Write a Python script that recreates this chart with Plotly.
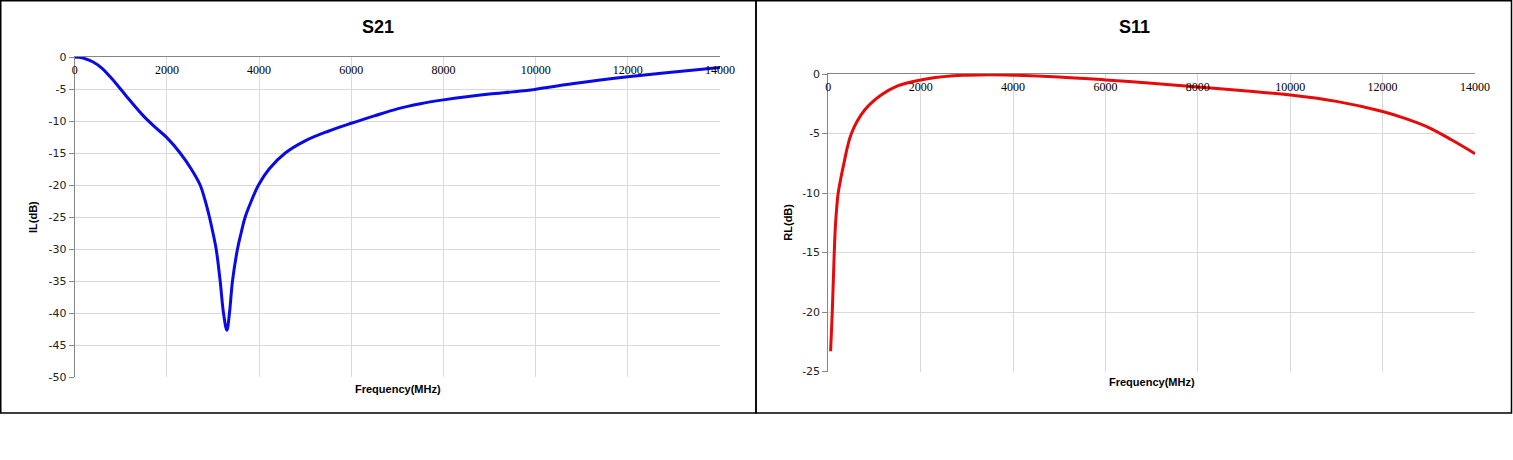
import plotly.graph_objects as go

W, H = 1513, 460

# ---- data ----
s21_freq = [0, 100, 200, 400, 600, 770, 950, 1130, 1490, 1750, 2000, 2287, 2528, 2721, 2833,
            2923, 3000, 3069, 3156, 3228, 3301, 3358, 3423, 3532, 3610, 3699, 3832, 3988,
            4218, 4568, 5000, 5500, 6000, 6500, 7000, 7500, 8000, 8500, 9000, 9500, 9850,
            10000, 10830, 12000, 13000, 14000]
s21_db = [0, -0.05, -0.2, -0.78, -1.8, -3.1, -4.6, -6.2, -9.2, -11.0, -12.6, -15.0, -17.5,
          -20.0, -22.5, -25.0, -27.5, -30.0, -35.0, -40.0, -42.7, -40.0, -35.0, -30.0, -27.5,
          -25.0, -22.5, -20.0, -17.5, -15.0, -13.1, -11.6, -10.35, -9.2, -8.1, -7.3, -6.7,
          -6.2, -5.78, -5.45, -5.2, -5.05, -4.15, -3.1, -2.33, -1.65]

s11_freq = [50, 86, 129, 158, 214, 260, 322, 500, 787, 1144, 1500, 2000, 2700, 3000, 3500, 4000,
            5000, 6000, 7000, 8000, 9000, 10000, 11000, 12000, 12500, 13000, 13500, 14000]
s11_db = [-23.3, -20.0, -15.0, -12.5, -10.0, -9.0, -7.8, -5.0, -3.03, -1.77, -1.0, -0.5, -0.15,
          -0.1, -0.07, -0.1, -0.25, -0.5, -0.78, -1.1, -1.4, -1.77, -2.3, -3.15, -3.75, -4.5,
          -5.55, -6.7]

x_ticks = [0, 2000, 4000, 6000, 8000, 10000, 12000, 14000]
x_labels = ["0", "2000", "4000", "6000", "8000", "10000", "12000", "14000"]
il_ticks = [0, -5, -10, -15, -20, -25, -30, -35, -40, -45, -50]
il_labels = ["0", "-5", "-10", "-15", "-20", "-25", "-30", "-35", "-40", "-45", "-50"]
rl_ticks = [0, -5, -10, -15, -20, -25]
rl_labels = ["0", "-5", "-10", "-15", "-20", "-25"]

titles = ["S21", "S11"]
y_titles = ["IL(dB)", "RL(dB)"]
x_title = "Frequency(MHz)"

# ---- layout geometry (pixels) ----
def px(x):
    return x / W

def py(y):
    return 1 - y / H

fig = go.Figure()
fig.add_trace(go.Scatter(x=s21_freq, y=s21_db, mode="lines",
                         line=dict(color="#0a0ae6", width=3, shape="spline", smoothing=1.0),
                         xaxis="x", yaxis="y", showlegend=False, hoverinfo="skip"))
fig.add_trace(go.Scatter(x=s11_freq, y=s11_db, mode="lines",
                         line=dict(color="#e60a0a", width=3, shape="spline", smoothing=1.0),
                         xaxis="x2", yaxis="y2", showlegend=False, hoverinfo="skip"))

grid = "#d9d9d9"
axc = "#868686"
xfont = dict(family="Liberation Serif", size=12, color="#000000")
yfont = dict(family="DejaVu Sans", size=11, color="#222222")

def xax(dom, anchor):
    return dict(domain=dom, anchor=anchor, range=[0, 14000], side="top",
                tickvals=x_ticks, ticktext=x_labels, showgrid=True, gridcolor=grid,
                gridwidth=1, showline=True, linecolor=axc, linewidth=1, zeroline=False,
                ticks="", ticklabelposition="outside", ticklabelstandoff=-23,
                ticklabeloverflow="allow", tickfont=xfont, automargin=False)

def yax(dom, anchor, rng, ticks, labels):
    return dict(domain=dom, anchor=anchor, range=rng, tickvals=ticks, ticktext=labels,
                showgrid=True, gridcolor=grid, gridwidth=1, showline=True,
                linecolor=axc, linewidth=1, zeroline=False, ticks="outside",
                ticklen=5, tickcolor=axc, tickfont=yfont, ticklabeloverflow="allow",
                automargin=False)

fig.update_layout(
    width=W, height=H, margin=dict(l=0, r=0, t=0, b=0, pad=0, autoexpand=False),
    autosize=False,
    paper_bgcolor="white", plot_bgcolor="white",
    xaxis=xax([px(74.7), px(720)], "y"),
    yaxis=yax([py(377), py(57)], "x", [-50, 0], il_ticks, il_labels),
    xaxis2=xax([px(828.3), px(1475)], "y2"),
    yaxis2=yax([py(371.5), py(74)], "x2", [-25, 0], rl_ticks, rl_labels),
)

# panel borders
for x0, x1 in [(0.75, 756), (756, 1511.5)]:
    fig.add_shape(type="rect", xref="paper", yref="paper",
                  x0=px(x0), x1=px(x1), y0=py(413), y1=py(0.75),
                  line=dict(color="black", width=1.5), fillcolor="rgba(0,0,0,0)")

tfont = dict(family="Liberation Sans", size=18, color="#000000")
afont = dict(family="Liberation Sans", size=11, color="#000000")

for cx, t in zip([378, 1134], titles):
    fig.add_annotation(text="<b>%s</b>" % t, x=px(cx), y=py(27), xref="paper", yref="paper",
                       showarrow=False, font=tfont, xanchor="center", yanchor="middle")

for cx, cy, t in [(397.5, 389, x_title), (1151.7, 382, x_title)]:
    fig.add_annotation(text="<b>%s</b>" % t, x=px(cx), y=py(cy), xref="paper", yref="paper",
                       showarrow=False, font=afont, xanchor="center", yanchor="middle")

for cx, cy, t in [(33, 217, y_titles[0]), (788, 222.7, y_titles[1])]:
    fig.add_annotation(text="<b>%s</b>" % t, x=px(cx), y=py(cy), xref="paper", yref="paper",
                       showarrow=False, font=afont, textangle=-90,
                       xanchor="center", yanchor="middle")

post = "document.body.style.margin='0';document.body.style.padding='0';"
fig.write_html("out.html", post_script=post, config={"displayModeBar": False})
